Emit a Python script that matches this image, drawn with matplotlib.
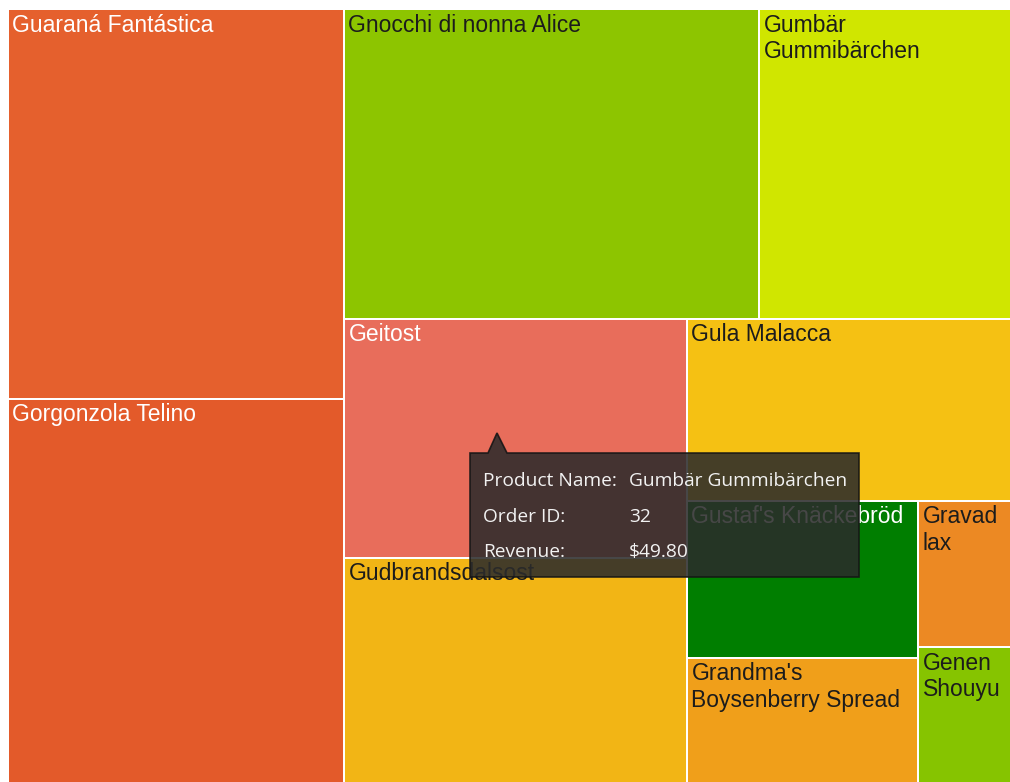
import matplotlib
matplotlib.use("Agg")
import matplotlib.pyplot as plt
from matplotlib.patches import Rectangle, Polygon

# revenue per product, in the order the tiles are laid out
products = ["Guaraná Fantástica", "Gorgonzola Telino", "Gnocchi di nonna Alice",
            "Gumbär Gummibärchen", "Geitost", "Gudbrandsdalsost", "Gula Malacca",
            "Gustaf's Knäckebröd", "Grandma's Boysenberry Spread", "Gravad lax",
            "Genen Shouyu"]
revenue = [1310.4, 1293.6, 1286.5, 781.2, 819.8, 775.2, 589.7, 362.7, 291.1, 135.8, 127.4]

colors = ["#e5602d", "#e35a2a", "#8dc500", "#d0e600", "#e86d5b", "#f2b515",
          "#f5c113", "#007e00", "#f09f1a", "#ec8923", "#86c400"]
text_colors = ["white", "white", "#1c1c1c", "#1c1c1c", "white", "#1c1c1c",
               "#1c1c1c", "white", "#1c1c1c", "#1c1c1c", "#1c1c1c"]

tip_keys = ["Product Name:", "Order ID:", "Revenue:"]
tip_vals = ["Gumbär Gummibärchen", "32", "$49.80"]


def worst(row, side):
    s = sum(row)
    return max(max(s * s / (side * side * r), side * side * r / (s * s)) for r in row)


def squarify(values, x, y, w, h):
    total = sum(values)
    vals = [v * w * h / total for v in values]
    rects = []
    while vals:
        side = min(w, h)
        row = [vals[0]]
        i = 1
        while i < len(vals) and worst(row + [vals[i]], side) <= worst(row, side):
            row.append(vals[i])
            i += 1
        vals = vals[i:]
        s = sum(row)
        if w >= h:
            cw = s / h
            yy = y
            for r in row:
                rects.append((x, yy, cw, r / cw))
                yy += r / cw
            x += cw
            w -= cw
        else:
            rh = s / w
            xx = x
            for r in row:
                rects.append((xx, y, r / rh, rh))
                xx += r / rh
            y += rh
            h -= rh
    return rects


fig = plt.figure(figsize=(10.1, 7.82), dpi=100)
ax = fig.add_axes([0, 0, 1, 1])
ax.set_xlim(0, 1010)
ax.set_ylim(782, 0)
ax.axis("off")
renderer = fig.canvas.get_renderer()

label_font = dict(family=["Liberation Sans", "DejaVu Sans"], fontsize=16.5)


def text_width(s):
    t = ax.text(0, 0, s, **label_font)
    w = t.get_window_extent(renderer).width
    t.remove()
    return w


def wrap(s, width):
    lines = []
    cur = ""
    for word in s.split():
        trial = word if not cur else cur + " " + word
        if cur and text_width(trial) > width:
            lines.append(cur)
            cur = word
        else:
            cur = trial
    lines.append(cur)
    return "\n".join(lines)


gap = 1.2
rects = squarify(revenue, 8, 9, 1003, 775)
for (x, y, w, h), name, c, tc in zip(rects, products, colors, text_colors):
    ax.add_patch(Rectangle((x + gap, y + gap), w - 2 * gap, h - 2 * gap,
                           facecolor=c, edgecolor="none"))
    ax.text(x + 4.5, y + 4.5, wrap(name, w - 8), color=tc, va="top", ha="left",
            linespacing=1.2, **label_font)

# tooltip
tip = Polygon([(470, 453), (488, 453), (497, 433), (507, 453), (859, 453),
               (859, 577), (470, 577)], closed=True, facecolor="#2b2b2b",
              edgecolor="#141414", linewidth=1.2, alpha=0.87, zorder=5)
ax.add_patch(tip)
tip_font = dict(family=["Open Sans", "DejaVu Sans"], fontsize=13.8, color="#f2f2f2",
                va="center", ha="left", zorder=6)
for i, (k, v) in enumerate(zip(tip_keys, tip_vals)):
    yy = 481 + i * 35.5
    ax.text(483, yy, k, **tip_font)
    ax.text(629, yy, v, **tip_font)

fig.savefig("out.png", dpi=100, facecolor="white")
